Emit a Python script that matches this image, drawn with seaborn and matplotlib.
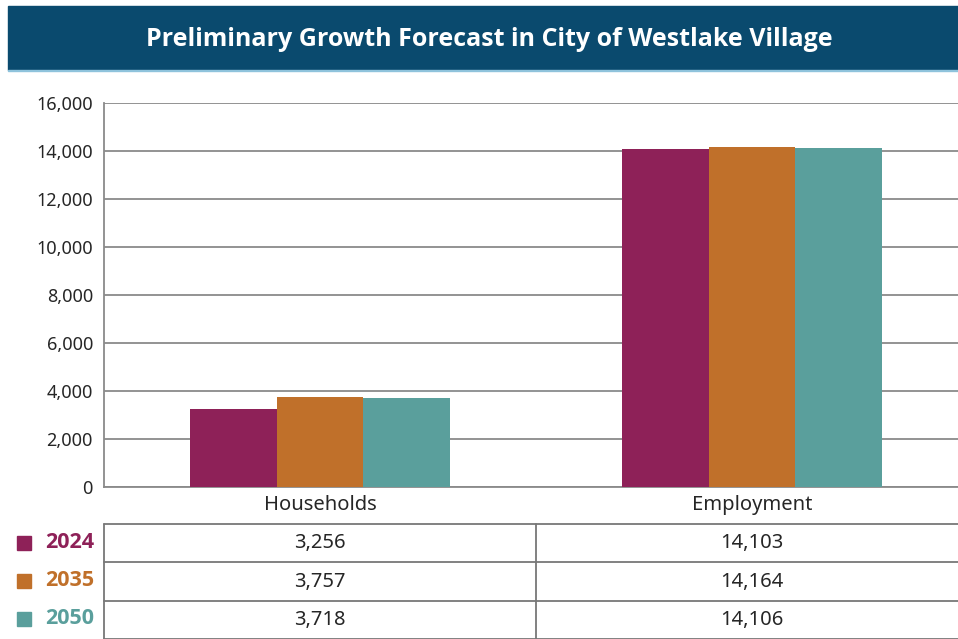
import numpy as np
import pandas as pd
import matplotlib
matplotlib.use("Agg")
import matplotlib.pyplot as plt
from matplotlib.patches import Rectangle
from matplotlib.ticker import FuncFormatter
import seaborn as sns

categories = ["Households", "Employment"]
years = ["2024", "2035", "2050"]
values_2024 = [3256, 14103]
values_2035 = [3757, 14164]
values_2050 = [3718, 14106]
year_colors = ["#8E2158", "#C0702A", "#5A9F9C"]
title = "Preliminary Growth Forecast in City of Westlake Village"

rows = []
for yr, vals in zip(years, [values_2024, values_2035, values_2050]):
    for cat, v in zip(categories, vals):
        rows.append({"Category": cat, "Year": yr, "Value": v})
df = pd.DataFrame(rows)

sns.set_style("white")
plt.rcParams["font.family"] = ["Noto Sans", "DejaVu Sans"]
bold_family = ["Open Sans", "Lato", "DejaVu Sans"]

W, H = 958, 639
fig = plt.figure(figsize=(W / 100, H / 100), dpi=100)

def fx(px):
    return px / W

def fy(py):
    return 1 - py / H

# title banner
fig.patches.append(Rectangle((fx(8), fy(70)), fx(958) - fx(8), fy(6) - fy(70),
                             transform=fig.transFigure, color="#0A4A6E", zorder=0))
fig.patches.append(Rectangle((fx(8), fy(71)), fx(958) - fx(8), fy(70) - fy(71),
                             transform=fig.transFigure, color="#8FC3DC", zorder=0))
fig.text(fx(489), fy(39), title, color="white", fontsize=18, fontweight="bold",
         family=bold_family, ha="center", va="center")

# main chart
ax = fig.add_axes([fx(104), fy(487), fx(968) - fx(104), fy(103) - fy(487)])
sns.barplot(data=df, x="Category", y="Value", hue="Year", palette=year_colors,
            width=0.6, gap=0, saturation=1, linewidth=0, ax=ax, legend=False, zorder=3)
ax.set_xlim(-0.5, 1.5)
ax.set_ylim(0, 16000)
ax.set_yticks(np.arange(0, 16001, 2000))
ax.yaxis.set_major_formatter(FuncFormatter(lambda v, p: f"{int(v):,}"))
ax.grid(axis="y", color="#8A8A8A", linewidth=1.3, zorder=0)
ax.set_axisbelow(True)
for s in ["top", "right"]:
    ax.spines[s].set_visible(False)
for s in ["left", "bottom"]:
    ax.spines[s].set_color("#8A8A8A")
    ax.spines[s].set_linewidth(1.3)
ax.tick_params(axis="y", length=5, color="#8A8A8A", labelsize=13, pad=3)
ax.tick_params(axis="x", length=5, color="#555555", labelsize=14.5, pad=1)
ax.set_xlabel("")
ax.set_ylabel("")

# data table below
tab = fig.add_axes([fx(104), fy(639), fx(968) - fx(104), fy(524) - fy(639)])
tab.set_xlim(-0.5, 1.5)
tab.set_ylim(3, 0)
tab.axis("off")
for yl in [0, 1, 2, 3]:
    tab.axhline(yl, color="#777777", linewidth=1.3, clip_on=False)
for xl in [-0.5, 0.5, 1.5]:
    tab.axvline(xl, color="#777777", linewidth=1.3, clip_on=False)
for i, (yr, vals) in enumerate(zip(years, [values_2024, values_2035, values_2050])):
    for j, v in enumerate(vals):
        tab.text(j, i + 0.5, f"{v:,}", ha="center", va="center", fontsize=14.5)
    yc = fy(543 + 38 * i)
    fig.patches.append(Rectangle((fx(17), yc - 0.5 * (fy(0) - fy(14))), fx(14), fy(0) - fy(14),
                                 transform=fig.transFigure, color=year_colors[i]))
    fig.text(fx(45), yc, yr, color=year_colors[i], fontsize=15.5, fontweight="bold",
             family=bold_family, ha="left", va="center")

fig.savefig("out.png", dpi=100)
